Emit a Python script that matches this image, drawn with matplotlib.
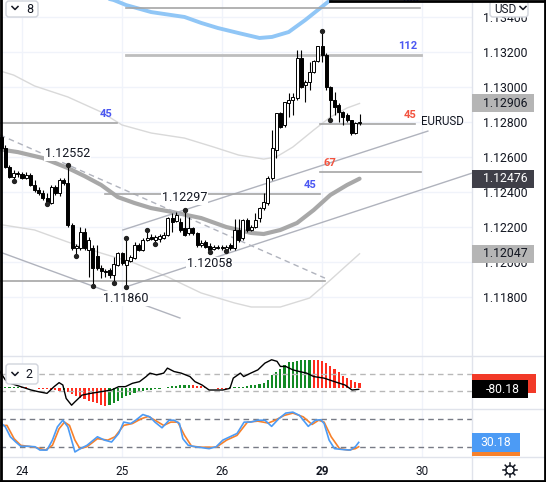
import matplotlib
matplotlib.use("Agg")
import matplotlib.pyplot as plt
from matplotlib import transforms
from matplotlib.lines import Line2D
from matplotlib.patches import Rectangle, FancyBboxPatch, Circle
import numpy as np

plt.rcParams['font.family'] = ['Roboto', 'DejaVu Sans']

W, H = 546, 482
TXT = '#131722'

# ---------------- data ----------------
# hourly bars, index = hours since 24th 00:00 (weekend removed)
first_bar = -5
opens = [1.12714, 1.12651, 1.12543, 1.12486, 1.12508, 1.12503, 1.12480, 1.12497, 1.12440, 1.12411,
         1.12394, 1.12366, 1.12337, 1.12428, 1.12394, 1.12468, 1.12451, 1.12211, 1.12080, 1.12080,
         1.12171, 1.12068, 1.12080, 1.12034, 1.11966, 1.11948, 1.11954, 1.11926, 1.11983, 1.12051,
         1.11983, 1.12006, 1.12023, 1.12097, 1.12068, 1.12126, 1.12143, 1.12126, 1.12131, 1.12137,
         1.12154, 1.12251, 1.12234, 1.12228, 1.12194, 1.12166, 1.12194, 1.12166, 1.12097, 1.12114,
         1.12091, 1.12074, 1.12086, 1.12086, 1.12068, 1.12097, 1.12080, 1.12183, 1.12137, 1.12240,
         1.12183, 1.12200, 1.12251, 1.12308, 1.12337, 1.12480, 1.12640, 1.12851, 1.12783, 1.12908,
         1.12926, 1.12937, 1.13166, 1.13011, 1.13028, 1.13086, 1.13148, 1.13234, 1.13183, 1.13000,
         1.12926, 1.12897, 1.12857, 1.12840, 1.12811, 1.12737, 1.12794]
highs = [1.12737, 1.12668, 1.12554, 1.12526, 1.12520, 1.12514, 1.12514, 1.12508, 1.12468, 1.12428,
         1.12411, 1.12394, 1.12440, 1.12440, 1.12480, 1.12480, 1.12552, 1.12223, 1.12103, 1.12200,
         1.12194, 1.12143, 1.12097, 1.12097, 1.11983, 1.11960, 1.11966, 1.12028, 1.12057, 1.12057,
         1.12137, 1.12040, 1.12114, 1.12108, 1.12137, 1.12183, 1.12160, 1.12154, 1.12160, 1.12171,
         1.12257, 1.12280, 1.12286, 1.12251, 1.12297, 1.12257, 1.12200, 1.12171, 1.12126, 1.12126,
         1.12108, 1.12097, 1.12097, 1.12097, 1.12097, 1.12108, 1.12246, 1.12246, 1.12246, 1.12251,
         1.12211, 1.12280, 1.12314, 1.12394, 1.12491, 1.12754, 1.12851, 1.12857, 1.12914, 1.12966,
         1.12966, 1.13211, 1.13211, 1.13040, 1.13143, 1.13154, 1.13234, 1.13320, 1.13194, 1.13006,
         1.12971, 1.12908, 1.12863, 1.12851, 1.12811, 1.12800, 1.12846]
lows = [1.12640, 1.12537, 1.12480, 1.12463, 1.12486, 1.12474, 1.12474, 1.12434, 1.12400, 1.12383,
        1.12354, 1.12331, 1.12331, 1.12383, 1.12377, 1.12440, 1.12200, 1.12068, 1.12034, 1.12068,
        1.12068, 1.11914, 1.11863, 1.11954, 1.11908, 1.11914, 1.11908, 1.11880, 1.11977, 1.11983,
        1.11860, 1.12000, 1.12017, 1.12063, 1.12063, 1.12120, 1.12126, 1.12103, 1.12114, 1.12131,
        1.12148, 1.12171, 1.12228, 1.12171, 1.12148, 1.12154, 1.12154, 1.12086, 1.12086, 1.12080,
        1.12058, 1.12068, 1.12074, 1.12068, 1.12063, 1.12068, 1.12068, 1.12114, 1.12126, 1.12171,
        1.12177, 1.12194, 1.12228, 1.12297, 1.12326, 1.12468, 1.12594, 1.12766, 1.12771, 1.12828,
        1.12840, 1.12926, 1.12994, 1.12914, 1.12983, 1.13080, 1.13143, 1.13143, 1.12983, 1.12811,
        1.12840, 1.12800, 1.12783, 1.12800, 1.12726, 1.12731, 1.12783]
closes = [1.12651, 1.12543, 1.12486, 1.12508, 1.12503, 1.12480, 1.12497, 1.12440, 1.12411, 1.12394,
          1.12366, 1.12337, 1.12428, 1.12394, 1.12468, 1.12451, 1.12211, 1.12080, 1.12091, 1.12171,
          1.12080, 1.12126, 1.11966, 1.11966, 1.11948, 1.11943, 1.11926, 1.11988, 1.12051, 1.11994,
          1.12011, 1.12028, 1.12097, 1.12068, 1.12126, 1.12137, 1.12131, 1.12143, 1.12148, 1.12154,
          1.12251, 1.12228, 1.12268, 1.12183, 1.12154, 1.12194, 1.12166, 1.12097, 1.12108, 1.12086,
          1.12068, 1.12086, 1.12080, 1.12080, 1.12086, 1.12080, 1.12183, 1.12126, 1.12240, 1.12183,
          1.12200, 1.12240, 1.12308, 1.12343, 1.12480, 1.12651, 1.12851, 1.12771, 1.12914, 1.12926,
          1.12943, 1.13166, 1.13000, 1.13028, 1.13086, 1.13148, 1.13234, 1.13183, 1.13000, 1.12926,
          1.12886, 1.12857, 1.12828, 1.12811, 1.12737, 1.12794, 1.12802]

swing_low_bars = [-2, 6, 13, 17, 22, 25, 32, 45, 49, 74]
swing_high_bars = [11, 25, 30, 39, 72]
# (bar, text, above?)
swing_labels = [(11, '1.12552', True), (39, '1.12297', True),
                (45, '1.12058', False), (25, '1.11860', False)]

# overlay lines (bar index, price)
ma_x = [-6, -1, 5, 11, 15, 19, 23, 27, 31, 36, 43, 49, 55, 58, 62, 66, 70, 74, 78, 81]
ma_v = [1.12646, 1.12628, 1.12594, 1.12537, 1.12491, 1.12440, 1.12371, 1.12337, 1.12308, 1.12286,
        1.12251, 1.12200, 1.12166, 1.12160, 1.12183, 1.12223, 1.12297, 1.12383, 1.12440, 1.12476]
upper_x = [-6, -2, 3, 11, 19, 24, 31, 39, 46, 52, 58, 61, 65, 70, 74, 78, 81]
upper_v = [1.13097, 1.13068, 1.13006, 1.12943, 1.12857, 1.12783, 1.12737, 1.12708, 1.12657, 1.12611,
           1.12588, 1.12600, 1.12657, 1.12754, 1.12828, 1.12880, 1.12906]
lower_x = [-6, 3, 11, 19, 27, 35, 43, 51, 55, 62, 69, 74, 78, 81]
lower_v = [1.12217, 1.12183, 1.12114, 1.12051, 1.11994, 1.11914, 1.11823, 1.11766, 1.11743, 1.11743,
           1.11794, 1.11897, 1.11983, 1.12047]
band_x = [19, 22, 25, 31, 39, 43, 47, 52, 57, 60, 64, 68, 74, 77]
band_v = [1.13514, 1.13497, 1.13468, 1.13428, 1.13400, 1.13366, 1.13337, 1.13308, 1.13280, 1.13286,
          1.13314, 1.13383, 1.13497, 1.13554]

# drawn trend lines: ((x0, p0), (x1, p1), dashed)
trend_lines = [((-5.3, 1.12726), (72.7, 1.11908), True),
               ((-5.3, 1.12057), (37.9, 1.11680), False),
               ((24.2, 1.12183), (97.4, 1.12748), False),
               ((25.2, 1.11860), (108.0, 1.12508), False)]

# horizontal levels: (x0, x1, price, label, colour, label x, label align)
levels = [(25.0, 95.5, 1.13451, '183', 'blue', 95.3, 'right'),
          (25.0, 95.8, 1.13183, '112', 'blue', 94.8, 'right'),
          (-5.3, 22.8, 1.12794, '45', 'blue', 21.8, 'right'),
          (71.5, 94.3, 1.12788, '45', 'red', 94.6, 'right'),
          (71.5, 95.8, 1.12514, '67', 'red', 74.0, 'center'),
          (19.9, 71.5, 1.12389, '45', 'blue', 70.6, 'right'),
          (-5.3, 72.7, 1.11891, '', None, 0, 'right')]

# lower panes
hist = [1.0, 1.0, 1.0, 1.1, 1.2, 0.8, 0.5, 0.1, -0.5, -1.0,
        -1.2, -1.5, -2.0, -2.5, -3.0, -2.6, -4.0, -6.0, -8.0, -10.0,
        -11.5, -13.0, -14.5, -16.0, -17.5, -18.5, -18.0, -15.5, -13.0, -10.5,
        -8.5, -7.0, -5.5, -4.5, -3.3, -2.4, -1.7, -1.2, -0.8, -0.3,
        0.8, 1.8, 2.4, 2.8, 3.1, 3.2, 3.0, 2.4, 1.6, 0.6,
        -0.2, -0.4, -0.6, -0.8, -0.9, 0.5, 0.8, 1.0, 1.4, 2.2,
        2.8, 3.3, 4.0, 5.5, 8.5, 13.0, 17.0, 20.0, 24.0, 26.5,
        27.3, 28.3, 28.7, 28.8, 29.3, 29.2, 29.0, 28.0, 25.5, 22.5,
        19.5, 16.5, 12.5, 10.5, 8.5, 6.5, 5.0]
osc_x = [-5.3, -4.0, -2.8, -0.3, 2.2, 3.9, 6.0, 7.7, 8.9, 9.8, 10.6, 11.9, 12.7, 14.4, 16.5, 19.0,
         21.5, 23.2, 24.8, 26.5, 28.2, 29.8, 30.7, 32.3, 34.0, 34.9, 36.5, 38.2, 40.3, 41.5, 43.2,
         44.9, 46.6, 48.2, 49.9, 50.7, 52.4, 53.2, 54.9, 56.6, 58.3, 59.9, 61.2, 62.0, 63.3, 65.0,
         66.6, 68.3, 70.0, 72.5, 75.0, 77.5, 79.2, 80.8]
osc_v = [133, 33, -8, -48, -88, -108, -128, -48, 0, -28, -189, -270, -230, -149, -128, -108,
         -88, -48, -48, -8, 12, 73, 114, 93, 114, 174, 133, 114, 73, 12, -28,
         -88, -88, -88, -68, 54, 114, 73, 114, 153, 234, 274, 255, 194, 194, 153,
         133, 114, 73, 54, 12, -28, -88, -80.18]
k_x = [-5.3, -4.0, -2.8, -1.5, -0.3, 1.4, 3.1, 4.3, 6.0, 7.3, 8.5, 9.8, 11.0, 11.9, 12.7, 14.0,
       15.6, 18.1, 19.8, 21.5, 23.2, 24.4, 26.1, 27.3, 29.0, 30.7, 31.9, 33.6, 35.3, 36.5, 37.8,
       38.6, 39.9, 41.6, 44.9, 46.6, 48.2, 49.9, 51.6, 53.3, 54.9, 56.6, 58.3, 59.9, 61.6, 63.3,
       65.0, 66.6, 68.7, 70.4, 71.7, 72.5, 73.7, 75.0, 77.1, 78.8, 80.0, 80.8]
k_v = [73, 63, 42, 31, 22, 22, 21, 14, 14, 35, 63, 77, 63, 35, 10, 17,
       24, 42, 35, 31, 49, 73, 70, 77, 89, 84, 73, 61, 77, 77, 70,
       38, 24, 21, 17, 21, 35, 42, 49, 73, 73, 77, 77, 64, 80, 92,
       94, 87, 64, 77, 78, 70, 35, 17, 15, 14, 21, 30.18]
d_x = [-5.3, -3.6, -1.9, -0.3, 1.4, 3.1, 5.6, 7.3, 8.9, 10.2, 11.4, 12.7, 13.9, 15.6, 18.1, 20.6,
       22.3, 24.4, 26.5, 28.6, 30.3, 31.9, 34.0, 35.7, 37.4, 39.0, 40.7, 43.2, 46.6, 49.1, 51.6,
       54.1, 56.6, 59.1, 60.8, 62.9, 65.0, 67.5, 69.6, 71.2, 72.5, 74.2, 76.2, 78.3, 80.0, 80.8]
d_v = [66, 66, 38, 24, 22, 20, 14, 24, 59, 73, 66, 35, 17, 21, 38, 35,
       42, 66, 70, 80, 85, 77, 66, 73, 73, 45, 22, 20, 20, 35, 45,
       73, 75, 71, 77, 87, 92, 84, 68, 77, 73, 42, 17, 14, 17, 21]

day_ticks = [0, 24, 48, 72, 96]
day_labels = ['24', '25', '26', '29', '30']
price_ticks = [1.118, 1.120, 1.122, 1.124, 1.126, 1.128, 1.130, 1.132, 1.134]

COLORS = {'blue': '#4b57f2', 'red': '#f2533f'}
GRID = '#f0f3fa'

# ---------------- figure ----------------
fig = plt.figure(figsize=(W / 100, H / 100), dpi=100)
fig.patch.set_facecolor('white')
PX = transforms.Affine2D().scale(1 / W, -1 / H).translate(0, 1) + fig.transFigure

plot_w = 472 / W
ax = fig.add_axes([0, (H - 356) / H, plot_w, 356 / H])
ax2 = fig.add_axes([0, (H - 409.3) / H, plot_w, 53.3 / H], sharex=ax)
ax3 = fig.add_axes([0, (H - 456.7) / H, plot_w, 47.4 / H], sharex=ax)
ax2c = ax2.twinx()

x_left, x_right = -22 / 4.167, 450 / 4.167
ax.set_xlim(x_left, x_right)
ax.set_ylim(1.11463, 1.13497)
ax2.set_ylim(-22, 33)
ax2c.set_ylim(-319, 319)
ax3.set_ylim(0, 100)

for a in (ax, ax2, ax2c, ax3):
    for s in a.spines.values():
        s.set_visible(False)
    a.tick_params(length=0)
ax.tick_params(labelbottom=False)
ax2.tick_params(labelbottom=False, labelleft=False)
ax2c.set_yticks([])
ax3.set_yticks([])
ax2.set_yticks([])

# grid
for a in (ax, ax2, ax3):
    for d in day_ticks:
        a.axvline(d, color=GRID, lw=1, zorder=0)
for p in price_ticks:
    ax.axhline(p, color=GRID, lw=1, zorder=0)

ax.yaxis.tick_right()
ax.set_yticks(price_ticks)
ax.set_yticklabels(['%.5f' % p for p in price_ticks])
ax.tick_params(axis='y', pad=8, labelsize=8.8, labelcolor=TXT)

# overlays
ax.plot(band_x, band_v, color='#90c6f6', lw=2.8, solid_capstyle='round', zorder=2)
ax.plot(upper_x, upper_v, color='#d9d9d9', lw=1, zorder=2)
ax.plot(lower_x, lower_v, color='#d9d9d9', lw=1, zorder=2)
ax.plot(ma_x, ma_v, color='#a8a8a8', lw=3, solid_capstyle='round', zorder=2)

for (x0, p0), (x1, p1), dashed in trend_lines:
    ax.plot([x0, x1], [p0, p1], color='#b0b3bd', lw=1,
            ls=(0, (4, 3)) if dashed else '-', zorder=2)

for x0, x1, p, label, col, lx, align in levels:
    thick = label == '112'
    ax.plot([x0, x1], [p, p], color='#bdbdbd' if thick else '#a5a5a5',
            lw=2 if thick else 1.2, zorder=2)
    if label:
        ax.annotate(label, (lx, p), xytext=(0, 3), textcoords='offset points',
                    ha=align, va='bottom', fontsize=8, fontweight='bold',
                    color=COLORS[col], zorder=3, annotation_clip=False)

# candles
bars = np.arange(first_bar, first_bar + len(opens))
o = np.array(opens)
c = np.array(closes)
ax.vlines(bars, lows, highs, color='black', lw=0.8, zorder=4)
body_lo = np.minimum(o, c)
body_h = np.maximum(np.abs(c - o), 0.00004)
faces = ['white' if cc > oo else 'black' for oo, cc in zip(o, c)]
ax.bar(bars, body_h, bottom=body_lo, width=0.72, color=faces,
       edgecolor='black', linewidth=0.7, zorder=5)

hi_map = dict(zip(bars, highs))
lo_map = dict(zip(bars, lows))
ax.plot(swing_low_bars, [lo_map[b] for b in swing_low_bars], 'o', ms=2.8, color='#222', zorder=6)
ax.plot(swing_high_bars, [hi_map[b] for b in swing_high_bars], 'o', ms=2.8, color='#222', zorder=6)
for b, text, above in swing_labels:
    p = hi_map[b] if above else lo_map[b]
    ax.annotate(text, (b, p), xytext=(0, 4 if above else -4), textcoords='offset points',
                ha='center', va='bottom' if above else 'top', fontsize=9, color=TXT,
                bbox=dict(facecolor='white', edgecolor='none', pad=0.5), zorder=7)

ax.text(95.8, closes[-1], 'EURUSD', fontsize=8.3, color=TXT, va='center', ha='left', zorder=7)

# MACD-like pane
hist_cols = []
prev = None
for v in hist:
    hist_cols.append('#138a24' if prev is None or v >= prev else '#ff2e1f')
    prev = v
ax2.bar(bars, hist, width=0.5, color=hist_cols, zorder=2)
for lvl in (100, -100):
    ax2c.axhline(lvl, color='#b8b8b8', lw=1, ls=(0, (4, 3)), zorder=1)
ax2c.plot(osc_x, osc_v, color='black', lw=1, zorder=3)

# stochastic pane
for lvl in (80, 20):
    ax3.axhline(lvl, color='#787b86', lw=1, ls=(0, (4, 3)), zorder=1)
ax3.plot(d_x, d_v, color='#f7812b', lw=1.2, zorder=2)
ax3.plot(k_x, k_v, color='#4c9bf5', lw=1.2, zorder=3)

ax3.set_xticks(day_ticks)
ax3.set_xticklabels(day_labels)
ax3.tick_params(axis='x', pad=6, labelsize=8.5, labelcolor=TXT)
for t in ax3.get_xticklabels():
    if t.get_text() == '29':
        t.set_fontweight('bold')


# ---------------- right-axis value boxes ----------------
def value_box(axis, value, text, face, fg, x1=534, h=18, tx=505):
    trans = transforms.blended_transform_factory(fig.transFigure, axis.transData)
    y0, y1 = axis.get_ylim()
    dy = h * (y1 - y0) / (axis.get_position().height * H)
    fig.add_artist(Rectangle((472 / W, value - dy / 2), (x1 - 472) / W, dy, transform=trans,
                             facecolor=face, edgecolor='none', zorder=5))
    if text:
        fig.text(tx / W, value, text, transform=trans, ha='center', va='center',
                 fontsize=8.8, color=fg, zorder=6)


value_box(ax, upper_v[-1], '%.5f' % upper_v[-1], '#b5b5b5', TXT)
value_box(ax, ma_v[-1], '%.5f' % ma_v[-1], '#3f3f48', 'white')
value_box(ax, lower_v[-1], '%.5f' % lower_v[-1], '#b5b5b5', TXT)
value_box(ax2, hist[-1], '', '#f23a28', 'white', x1=536, h=19)
value_box(ax2c, osc_v[-1], '%.2f' % osc_v[-1], '#000000', 'white', x1=528, h=18, tx=503)
value_box(ax3, d_v[-1], '', '#f7812b', 'white', x1=520, h=19)
value_box(ax3, k_v[-1], '%.2f' % k_v[-1], '#4c9bf5', 'white', x1=520, h=19, tx=496)

# ---------------- chrome: separators, border, buttons ----------------
SEP = '#e0e3eb'
for y in (356, 409.3, 456.7):
    fig.add_artist(Line2D([0, W], [y, y], transform=PX, color=SEP, lw=1, zorder=4))
fig.add_artist(Line2D([472, 472], [0, H], transform=PX, color=SEP, lw=1, zorder=4))

for xs, ys in (([1, 1], [0, H]), ([0, W], [H - 1, H - 1]), ([W - 1, W - 1], [0, H]),
               ([330, W], [0.5, 0.5])):
    fig.add_artist(Line2D(xs, ys, transform=PX, color='black', lw=2, zorder=10))


def button(x0, y0, x1, y1, label, label_x, chevron_x, chevron_y, fs=9):
    fig.add_artist(FancyBboxPatch((x0, y0), x1 - x0, y1 - y0, transform=PX,
                                  boxstyle='round,pad=0,rounding_size=3',
                                  facecolor='white', edgecolor='#d1d4dc', lw=1, zorder=8))
    fig.text(label_x, (y0 + y1) / 2 + 0.5, label, transform=PX, ha='center', va='center',
             fontsize=fs, color=TXT, zorder=9)
    fig.add_artist(Line2D([chevron_x - 3, chevron_x, chevron_x + 3],
                          [chevron_y - 1.5, chevron_y + 1.5, chevron_y - 1.5],
                          transform=PX, color=TXT, lw=1.1, zorder=9))


button(6, 1, 38, 17, '8', 30, 15, 8)
button(490, 1, 528, 17, 'USD', 505, 523, 8, fs=8.5)
button(6, 364, 38, 384, '2', 29, 15, 374)

# settings gear (outline)
gx, gy = 510, 470
fig.add_artist(Circle((gx, gy), 4.2, transform=PX, facecolor='white', edgecolor=TXT, lw=1.0, zorder=9))
for ang in np.arange(0, 360, 45):
    r = np.deg2rad(ang)
    fig.add_artist(Line2D([gx + 4.2 * np.cos(r), gx + 6.8 * np.cos(r)],
                          [gy + 4.2 * np.sin(r), gy + 6.8 * np.sin(r)],
                          transform=PX, color=TXT, lw=1.1, zorder=9))

fig.savefig('out.png', dpi=100, facecolor='white')
